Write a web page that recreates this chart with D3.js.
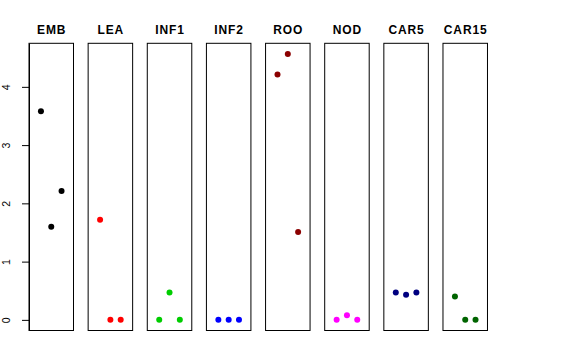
<!DOCTYPE html>
<html><head><meta charset="utf-8">
<script src="https://cdn.jsdelivr.net/npm/d3@7"></script>
<style>body{margin:0;background:#fff}svg{display:block}</style>
</head><body>
<svg id="c" width="576" height="360"></svg>
<script>
const categories = ["EMB","LEA","INF1","INF2","ROO","NOD","CAR5","CAR15"];
const EMB = [3.58, 1.60, 2.21];
const LEA = [1.72, 0, 0];
const INF1 = [0, 0.47, 0];
const INF2 = [0, 0, 0];
const ROO = [4.21, 4.565, 1.51];
const NOD = [0, 0.08, 0];
const CAR5 = [0.47, 0.43, 0.47];
const CAR15 = [0.40, 0, 0];
const seriesValues = [EMB, LEA, INF1, INF2, ROO, NOD, CAR5, CAR15];
const colors = ["#000000","#FF0000","#00CD00","#0000FF","#8B0000","#FF00FF","#000080","#006400"];
const yTicks = [0,1,2,3,4];

const svg = d3.select("#c");
const panelLeft = 29, panelStep = 59.14, panelW = 44.5;
const plotTop = 43.3, plotBottom = 330.5;
const yMax = d3.max(seriesValues.flat()), yMin = 0;
const pad = (yMax - yMin) * 0.04;
const y = d3.scaleLinear().domain([yMin - pad, yMax + pad]).range([plotBottom, plotTop]);

categories.forEach((cat, i) => {
  const x0 = panelLeft + i * panelStep;
  const x = d3.scaleLinear().domain([-0.16, 4.16]).range([x0, x0 + panelW]);
  const g = svg.append("g");
  g.append("rect").attr("x", x0).attr("y", plotTop).attr("width", panelW).attr("height", plotBottom - plotTop)
    .attr("fill", "none").attr("stroke", "#000").attr("stroke-width", 1);
  g.selectAll("circle").data(seriesValues[i]).join("circle")
    .attr("cx", (d, j) => x(j + 1)).attr("cy", d => y(d)).attr("r", 3)
    .attr("fill", colors[i]);
  g.append("text").attr("x", x0 + panelW / 2 + 0.45).attr("y", 33.6)
    .attr("text-anchor", "middle").attr("font-family", "Liberation Sans, Arial, sans-serif")
    .attr("font-weight", "bold").attr("font-size", 12).attr("letter-spacing", 0.9).text(cat);
  if (i === 0) {
    const ax = svg.append("g").attr("transform", `translate(${x0},0)`)
      .call(d3.axisLeft(y).tickValues(yTicks).tickSize(7).tickSizeOuter(0).tickFormat(d3.format("d")));
    ax.selectAll("path,line").attr("stroke", "#000");
    ax.selectAll("text").attr("transform", "rotate(-90)").attr("x", 0).attr("y", -19)
      .attr("dy", 0).attr("text-anchor", "middle")
      .attr("font-family", "Liberation Sans, Arial, sans-serif").attr("font-size", 10.5).attr("fill", "#000");
  }
});
</script>
</body></html>
